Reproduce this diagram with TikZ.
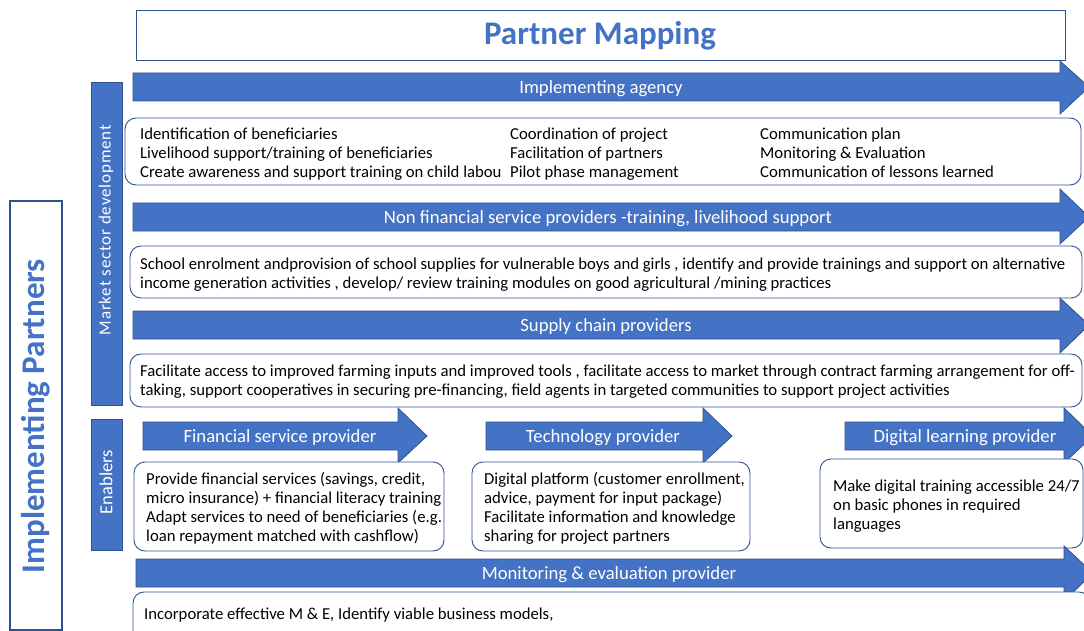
\documentclass[tikz,border=0pt]{standalone}
\usepackage{fontspec}
\setmainfont{Carlito}
\usetikzlibrary{positioning}
\definecolor{mapblue}{HTML}{4472C4}
\definecolor{mapedge}{HTML}{2F528F}
\tikzset{
  bar/.style={fill=mapblue, draw=mapedge, line width=0.8pt},
  barlabel/.style={text=white, inner sep=0pt, font=\fontsize{18.7}{22}\selectfont},
  panel/.style={fill=white, draw=mapedge, line width=0.9pt, rounded corners=11pt},
  paneltext/.style={anchor=north west, align=left, inner sep=0pt, font=\fontsize{16.7}{19}\selectfont},
}
\begin{document}
\begin{tikzpicture}[x=1pt,y=-1pt]
    \useasboundingbox (0,0) rectangle (1084,631);
    \clip (0,0) rectangle (1084,631);
    % title
    \draw[mapedge, line width=0.9pt] (136,10) rectangle (1065,60);
    \node[text=mapblue, font=\fontsize{33}{36}\selectfont\bfseries] (title) at (600,36) {Partner Mapping};
    % left labels
    \draw[mapedge, line width=1.2pt] (10,201) rectangle (62,630);
    \node[rotate=90, text=mapblue, font=\fontsize{33}{36}\selectfont\bfseries] (partners) at (36,416) {Implementing Partners};
    \filldraw[bar] (91,82) rectangle (122,405);
    \node[rotate=90, text=white, font=\fontsize{17}{20}\selectfont\addfontfeature{LetterSpace=5}] (market) at (106,230) {Market sector development};
    \filldraw[bar] (91,419) rectangle (122,550);
    \node[rotate=90, text=white, font=\fontsize{18.5}{20}\selectfont] (enablers) at (106,482) {Enablers};
    % implementing agency
    \filldraw[bar] (133,73) -- (1060,73) -- (1060,61) -- (1089,87) -- (1060,114) -- (1060,101) -- (133,101) -- cycle;
    \node[barlabel] (agency) at (601,88.5) {Implementing agency};
    \draw[panel] (125,118) rectangle (1081,185);
    \node[paneltext] (agencyA) at (140,127.5) {Identification of beneficiaries\\Livelihood support/training of beneficiaries\\Create awareness and support training on child labou};
    \node[paneltext] (agencyB) at (510,127.5) {Coordination of project\\Facilitation of partners\\Pilot phase management};
    \node[paneltext] (agencyC) at (760,127.5) {Communication plan\\Monitoring \& Evaluation\\Communication of lessons learned};
    % non financial
    \filldraw[bar] (133,203) -- (1060,203) -- (1060,189) -- (1089,217) -- (1060,244) -- (1060,231) -- (133,231) -- cycle;
    \node[barlabel] (nonfin) at (608,218.5) {Non financial service providers -training, livelihood support};
    \draw[panel] (130,246) rectangle (1082,298);
    \node[paneltext] (nonfinA) at (140,257.5) {School enrolment andprovision of school supplies for vulnerable boys and girls , identify and provide trainings and support on alternative\\income generation activities , develop/ review training modules on good agricultural /mining practices};
    % supply chain
    \filldraw[bar] (133,311) -- (1060,311) -- (1060,298) -- (1089,325) -- (1060,353) -- (1060,339) -- (133,339) -- cycle;
    \node[barlabel] (supply) at (606,326.5) {Supply chain providers};
    \draw[panel] (130,354) rectangle (1082,407);
    \node[paneltext] (supplyA) at (140,364.5) {Facilitate access to improved farming inputs and improved tools , facilitate access to market through contract farming arrangement for off-\\taking, support cooperatives in securing pre-financing, field agents in targeted communities to support project activities};
    % enablers
    \filldraw[bar] (143,422) -- (398,422) -- (398,408) -- (427,436) -- (398,463) -- (398,450) -- (143,450) -- cycle;
    \node[barlabel] (finance) at (280,437.5) {Financial service provider};
    \draw[panel] (134,462) rectangle (444,551);
    \node[paneltext, font=\fontsize{16.7}{18.8}\selectfont] (financeA) at (146,472.5) {Provide financial services (savings, credit,\\micro insurance) + financial literacy training\\Adapt services to need of beneficiaries (e.g.\\loan repayment matched with cashflow)};
    \filldraw[bar] (486,422) -- (703,422) -- (703,408) -- (732,436) -- (703,463) -- (703,450) -- (486,450) -- cycle;
    \node[barlabel] (techno) at (603,437.5) {Technology provider};
    \draw[panel] (472,462) rectangle (750,551);
    \node[paneltext, font=\fontsize{16.7}{18.8}\selectfont] (technoA) at (484,472.5) {Digital platform (customer enrollment,\\advice, payment for input package)\\Facilitate information and knowledge\\sharing for project partners};
    \filldraw[bar] (845,422) -- (1064,422) -- (1064,408) -- (1093,436) -- (1064,463) -- (1064,450) -- (845,450) -- cycle;
    \node[barlabel] (digital) at (965,437.5) {Digital learning provider};
    \draw[panel] (820,459) rectangle (1083,548);
    \node[paneltext] (digitalA) at (833,479.5) {Make digital training accessible 24/7\\on basic phones in required\\languages};
    % monitoring
    \filldraw[bar] (136,559) -- (1064,559) -- (1064,546) -- (1093,573) -- (1064,601) -- (1064,587) -- (136,587) -- cycle;
    \node[barlabel] (monitor) at (609,574.5) {Monitoring \& evaluation provider};
    \draw[panel] (133,592) rectangle (1090,650);
    \node[paneltext] (monitorA) at (144,607.5) {Incorporate effective M \& E, Identify viable business models,};
\end{tikzpicture}
\end{document}
